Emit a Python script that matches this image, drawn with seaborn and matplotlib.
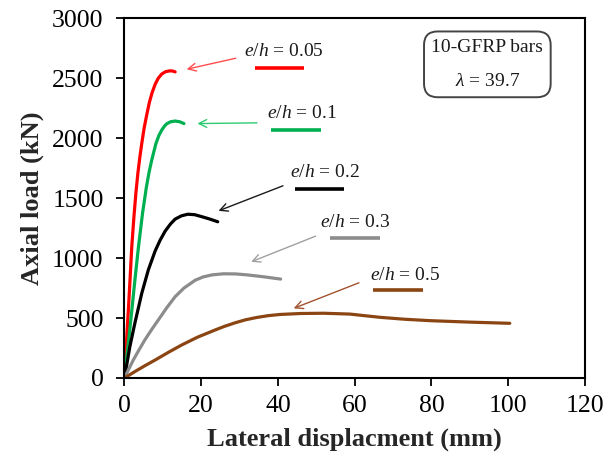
import matplotlib
matplotlib.use("Agg")
import matplotlib.pyplot as plt
import seaborn as sns
import pandas as pd

# Load-displacement curves for each eccentricity ratio
ecc_labels = ["0.05", "0.1", "0.2", "0.3", "0.5"]

disp_005 = [0, 0.5, 1.0, 1.5, 1.9, 2.5, 3.0, 3.5, 4.0, 4.5, 5.1, 5.8, 6.5,
            7.2, 8.0, 8.8, 9.7, 10.7, 11.9, 12.6, 13.2]
load_005 = [0, 290, 560, 850, 1094, 1360, 1550, 1710, 1840, 1955, 2080, 2195,
            2300, 2380, 2450, 2500, 2535, 2555, 2562, 2560, 2553]

disp_01 = [0, 1.0, 1.9, 2.7, 3.6, 4.7, 5.7, 6.4, 7.1, 8.2, 9.0, 9.7, 10.4,
           11.0, 12.0, 13.2, 14.4, 15.5]
load_01 = [0, 290, 560, 810, 1080, 1372, 1590, 1715, 1817, 1956, 2025, 2067,
           2100, 2120, 2137, 2143, 2137, 2122]

disp_02 = [0, 1.4, 2.7, 4.5, 6.2, 8.0, 9.3, 10.6, 12.0, 13.2, 14.8, 16.5,
           18.3, 20.2, 22.3, 24.3]
load_02 = [0, 261, 456, 706, 900, 1060, 1150, 1225, 1285, 1325, 1352, 1366,
           1362, 1345, 1325, 1303]

disp_03 = [0, 1.2, 2.3, 3.8, 5.3, 7.0, 8.8, 11.0, 13.2, 15.5, 18.4, 20.5,
           22.8, 25.8, 28.9, 32.0, 36.0, 40.7]
load_03 = [0, 80, 150, 235, 317, 400, 483, 585, 678, 750, 815, 843, 860, 869,
           868, 860, 845, 825]

disp_05 = [0, 2.7, 5.3, 8.0, 11.5, 14.9, 19.0, 23.6, 26.0, 28.8, 31.5, 34.5,
           37.5, 40.6, 46.0, 51.9, 58.8, 62.5, 66.6, 73.0, 79.7, 90.0, 100.4]
load_05 = [0, 53, 102, 150, 215, 275, 340, 400, 430, 460, 485, 505, 520, 530,
           538, 540, 533, 520, 506, 490, 478, 466, 456]

curve_colors = ["#ff0000", "#00b050", "#000000", "#8c8c8c", "#8b4513"]
arrow_colors = ["#ff4d4d", "#2ecc71", "#1a1a1a", "#a0a0a0", "#a0522d"]

frames = []
for lab, xs, ys in zip(ecc_labels,
                       [disp_005, disp_01, disp_02, disp_03, disp_05],
                       [load_005, load_01, load_02, load_03, load_05]):
    frames.append(pd.DataFrame({"disp": xs, "load": ys, "ecc": lab}))
df = pd.concat(frames, ignore_index=True)

# Label placement: text centre, underline span, arrow tail and head (data units)
text_xy = [(41.6, 2727), (46.3, 2206), (52.2, 1712), (60.2, 1298), (73.2, 854)]
underline_x = [(34.1, 46.9), (38.2, 51.1), (44.5, 57.3), (53.5, 66.5), (64.8, 77.8)]
underline_y = [2586, 2067, 1575, 1164, 733]
arrow_tail = [(29.0, 2667), (34.5, 2128), (41.3, 1603), (49.8, 1183), (61.1, 794)]
arrow_head = [(16.2, 2575), (19.0, 2122), (24.5, 1394), (33.0, 969), (44.1, 581)]

sns.set_style("ticks")
plt.rcParams["font.family"] = ["Liberation Serif", "DejaVu Serif"]
plt.rcParams["mathtext.fontset"] = "custom"
plt.rcParams["mathtext.it"] = "Liberation Serif:italic"
plt.rcParams["mathtext.rm"] = "Liberation Serif"

fig = plt.figure(figsize=(6.06, 4.67), dpi=100)
ax = fig.add_axes([0.2054, 0.1906, 0.7599, 0.7702])

for lab, col in zip(ecc_labels, curve_colors):
    sns.lineplot(data=df[df["ecc"] == lab], x="disp", y="load", ax=ax,
                 color=col, linewidth=2.3, sort=False, estimator=None,
                 legend=False)

for i, lab in enumerate(ecc_labels):
    ax.text(text_xy[i][0], text_xy[i][1], r"$e/h$ = " + lab, fontsize=14,
            ha="center", va="center", color="#1a1a1a")
    ax.plot(underline_x[i], [underline_y[i], underline_y[i]],
            color=curve_colors[i], linewidth=2.6, solid_capstyle="butt")
    ax.annotate("", xy=arrow_head[i], xytext=arrow_tail[i],
                arrowprops=dict(arrowstyle="->", color=arrow_colors[i],
                                lw=1.0, mutation_scale=14,
                                shrinkA=0, shrinkB=0))

ax.text(0.788, 0.872, "10-GFRP bars\n\n" + r"$\lambda$ = 39.7",
        transform=ax.transAxes, ha="center", va="center", fontsize=14,
        linespacing=1.0, color="#1a1a1a",
        bbox=dict(boxstyle="round,pad=0.38,rounding_size=0.7",
                  facecolor="white", edgecolor="#444444", linewidth=1.4))

ax.set_xlim(0, 120)
ax.set_ylim(0, 3000)
ax.set_xticks(range(0, 121, 20))
ax.set_yticks(range(0, 3001, 500))
ax.tick_params(direction="out", length=6, width=1.3, labelsize=18.5,
               colors="black")
ax.tick_params(axis="y", pad=9)
ax.tick_params(axis="x", pad=6)
for side in ["top", "right", "bottom", "left"]:
    ax.spines[side].set_visible(True)
    ax.spines[side].set_linewidth(1.5)
    ax.spines[side].set_color("black")

ax.set_xlabel("Lateral displacment (mm)", fontsize=19, fontweight="bold",
              labelpad=8)
ax.set_ylabel("Axial load (kN)", fontsize=19, fontweight="bold", labelpad=6)

fig.savefig("out.png", dpi=100, facecolor="white")
